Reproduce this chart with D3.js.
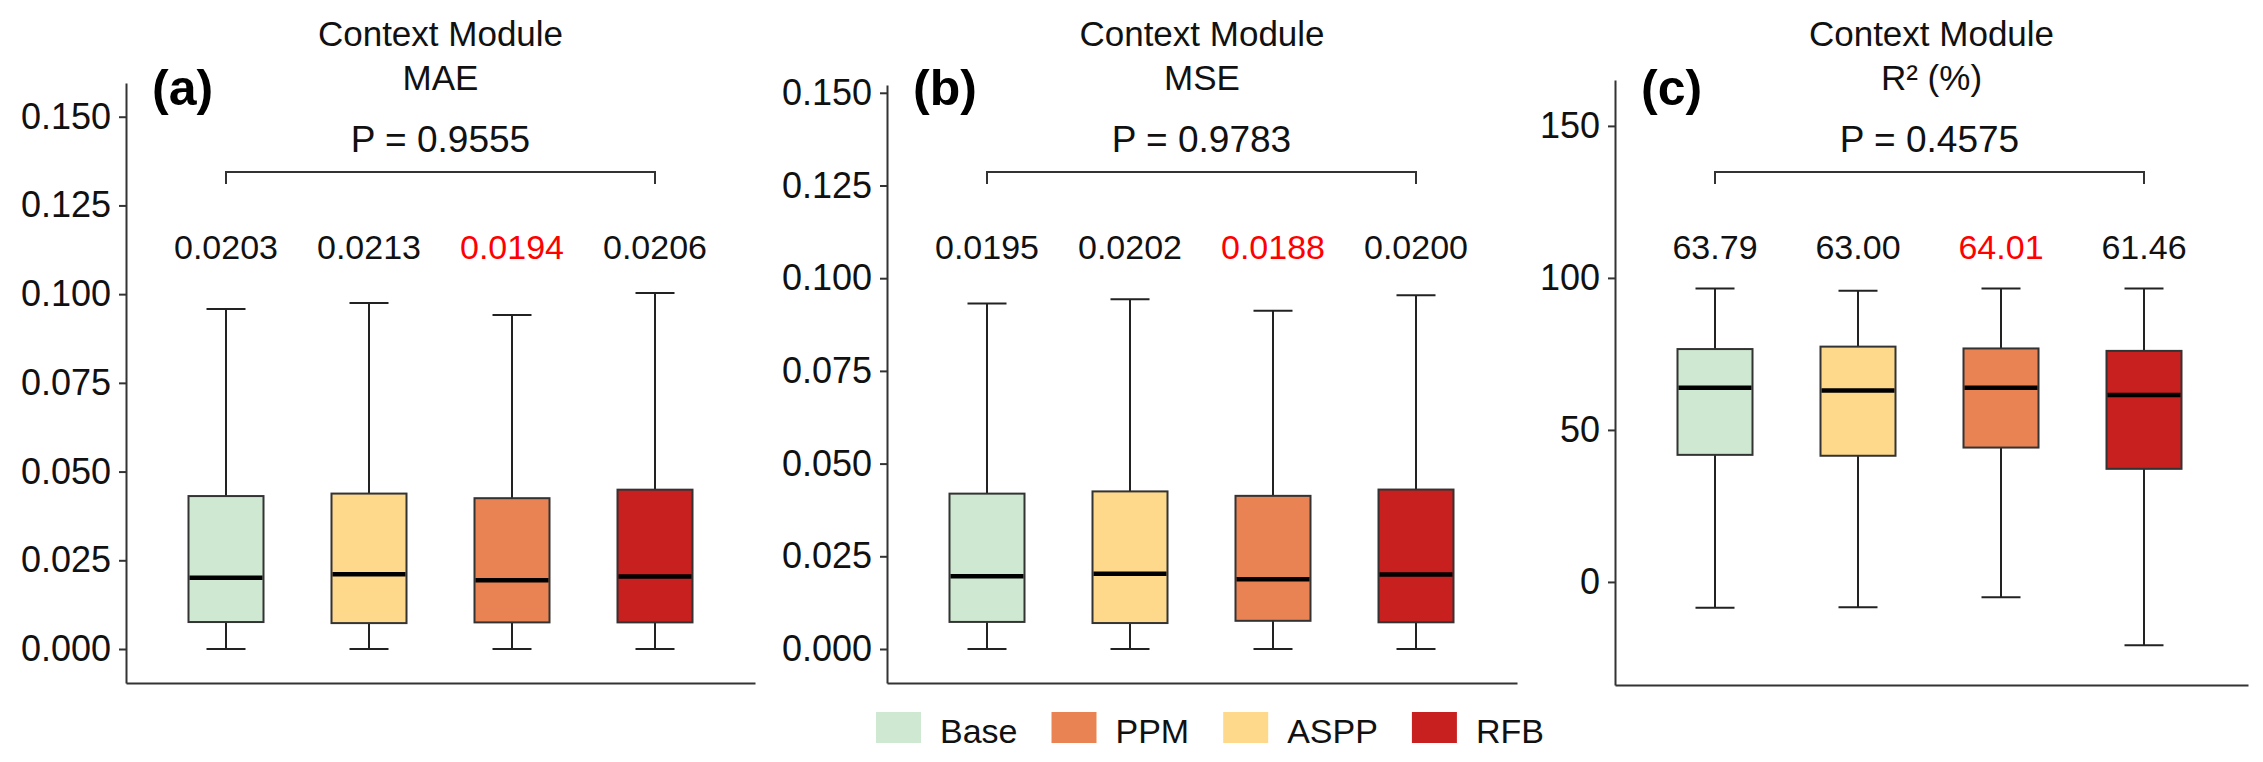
<!DOCTYPE html>
<meta charset="utf-8">
<head lang="en">
    <title>Context Module boxplots</title>
    <script src="https://cdn.jsdelivr.net/npm/d3@7/dist/d3.min.js"></script>
    <style type="text/css">
        body { margin: 0; background: #fff; }
        svg text { font-family: "Liberation Sans", Arial, sans-serif; }
        .axis path, .axis line { stroke: #333; stroke-width: 2; }
        .axis text { font-size: 36px; fill: #111; }
        .box { stroke: #333; stroke-width: 2; }
        .whisker { stroke: #222; stroke-width: 2; }
        .median { stroke: #000; stroke-width: 4.5; }
    </style>
</head>
<body>
<script type="text/javascript">

    // groups in plotting order (x axis)
    var groups = ["Base", "ASPP", "PPM", "RFB"];
    var legendOrder = ["Base", "PPM", "ASPP", "RFB"];
    var groupColors = ["#cfe8d1", "#fed98c", "#ea8354", "#c81f1f"];

    // (a) MAE
    var maeMin = [0, 0, 0, 0];
    var maeQ1 = [0.0076, 0.0073, 0.0075, 0.0075];
    var maeMed = [0.0201, 0.0211, 0.0194, 0.0204];
    var maeQ3 = [0.0431, 0.0438, 0.0425, 0.0449];
    var maeMax = [0.0958, 0.0975, 0.0941, 0.1003];
    var maeLabels = ["0.0203", "0.0213", "0.0194", "0.0206"];
    var maeTicks = [0, 0.025, 0.05, 0.075, 0.1, 0.125, 0.15];

    // (b) MSE
    var mseMin = [0, 0, 0, 0];
    var mseQ1 = [0.0073, 0.0070, 0.0076, 0.0072];
    var mseMed = [0.0196, 0.0203, 0.0188, 0.0201];
    var mseQ3 = [0.0419, 0.0425, 0.0413, 0.0430];
    var mseMax = [0.0932, 0.0943, 0.0912, 0.0954];
    var mseLabels = ["0.0195", "0.0202", "0.0188", "0.0200"];
    var mseTicks = [0, 0.025, 0.05, 0.075, 0.1, 0.125, 0.15];

    // (c) R2 (%)
    var r2Min = [-8.5, -8.3, -5.0, -20.8];
    var r2Q1 = [41.8, 41.5, 44.2, 37.2];
    var r2Med = [63.9, 63.0, 63.9, 61.5];
    var r2Q3 = [76.6, 77.4, 76.8, 76.0];
    var r2Max = [96.5, 95.8, 96.5, 96.5];
    var r2Labels = ["63.79", "63.00", "64.01", "61.46"];
    var r2Ticks = [0, 50, 100, 150];

    var bestIndex = 2; // PPM value printed in red

    var panels = [
        {tag: "(a)", metric: "MAE", p: "P = 0.9555", lo: maeMin, q1: maeQ1, med: maeMed, q3: maeQ3, hi: maeMax,
            labels: maeLabels, ticks: maeTicks, fmt: d3.format(".3f"), domain: [-0.00958, 0.1595],
            left: 126, right: 755, top: 83, bottom: 683},
        {tag: "(b)", metric: "MSE", p: "P = 0.9783", lo: mseMin, q1: mseQ1, med: mseMed, q3: mseQ3, hi: mseMax,
            labels: mseLabels, ticks: mseTicks, fmt: d3.format(".3f"), domain: [-0.00917, 0.1521],
            left: 887, right: 1517, top: 85, bottom: 683},
        {tag: "(c)", metric: "R\u00b2 (%)", p: "P = 0.4575", lo: r2Min, q1: r2Q1, med: r2Med, q3: r2Q3, hi: r2Max,
            labels: r2Labels, ticks: r2Ticks, fmt: d3.format("d"), domain: [-33.9, 165.1],
            left: 1615, right: 2248, top: 80, bottom: 685}
    ];

    var width = 2263;
    var height = 762;
    var boxW = 75;
    var capW = 39;

    var color = d3.scaleOrdinal().domain(groups).range(groupColors);

    var svg = d3.select("body")
        .append("svg")
        .attr("width", width)
        .attr("height", height);

    panels.forEach(function (pn) {
        var g = svg.append("g");

        var x = d3.scalePoint()
            .domain(groups)
            .range([pn.left + 100, pn.left + 100 + 429]);
        var y = d3.scaleLinear()
            .domain(pn.domain)
            .range([pn.bottom, pn.top]);

        // axes
        g.append("g")
            .attr("class", "axis")
            .attr("transform", "translate(" + pn.left + ",0)")
            .call(d3.axisLeft(y).tickValues(pn.ticks).tickFormat(pn.fmt)
                .tickSize(7).tickPadding(8).tickSizeOuter(0));
        g.append("g")
            .attr("class", "axis")
            .attr("transform", "translate(0," + pn.bottom + ")")
            .call(d3.axisBottom(d3.scaleLinear().range([pn.left, pn.right]))
                .tickValues([]).tickSizeOuter(0));

        var rows = groups.map(function (name, i) {
            return {name: name, i: i, lo: pn.lo[i], q1: pn.q1[i], med: pn.med[i], q3: pn.q3[i], hi: pn.hi[i]};
        });

        // whiskers
        g.selectAll(".wh").data(rows).enter().append("line")
            .attr("class", "whisker")
            .attr("x1", function (d) { return x(d.name); })
            .attr("x2", function (d) { return x(d.name); })
            .attr("y1", function (d) { return y(d.lo); })
            .attr("y2", function (d) { return y(d.hi); });
        ["lo", "hi"].forEach(function (k) {
            g.selectAll(".cap-" + k).data(rows).enter().append("line")
                .attr("class", "whisker")
                .attr("x1", function (d) { return x(d.name) - capW / 2; })
                .attr("x2", function (d) { return x(d.name) + capW / 2; })
                .attr("y1", function (d) { return y(d[k]); })
                .attr("y2", function (d) { return y(d[k]); });
        });

        // boxes
        g.selectAll(".box").data(rows).enter().append("rect")
            .attr("class", "box")
            .attr("x", function (d) { return x(d.name) - boxW / 2; })
            .attr("width", boxW)
            .attr("y", function (d) { return y(d.q3); })
            .attr("height", function (d) { return y(d.q1) - y(d.q3); })
            .style("fill", function (d) { return color(d.name); });
        g.selectAll(".median").data(rows).enter().append("line")
            .attr("class", "median")
            .attr("x1", function (d) { return x(d.name) - boxW / 2 + 1; })
            .attr("x2", function (d) { return x(d.name) + boxW / 2 - 1; })
            .attr("y1", function (d) { return y(d.med); })
            .attr("y2", function (d) { return y(d.med); });

        // mean labels above boxes
        g.selectAll(".lab").data(pn.labels).enter().append("text")
            .attr("x", function (d, i) { return x(groups[i]); })
            .attr("y", 259)
            .attr("text-anchor", "middle")
            .style("font-size", "34px")
            .style("fill", function (d, i) { return i === bestIndex ? "#ff0000" : "#111"; })
            .text(function (d) { return d; });

        // comparison bracket
        var xa = x(groups[0]), xb = x(groups[groups.length - 1]);
        g.append("path")
            .attr("d", "M" + xa + "," + 184 + "V172H" + xb + "V184")
            .attr("fill", "none")
            .attr("stroke", "#333")
            .attr("stroke-width", 2);
        g.append("text")
            .attr("x", (xa + xb) / 2)
            .attr("y", 152)
            .attr("text-anchor", "middle")
            .style("font-size", "37px")
            .style("fill", "#111")
            .text(pn.p);

        // titles
        var cx = (pn.left + pn.right) / 2;
        g.append("text")
            .attr("x", cx).attr("y", 46)
            .attr("text-anchor", "middle")
            .style("font-size", "35px").style("fill", "#111")
            .text("Context Module");
        g.append("text")
            .attr("x", cx).attr("y", 90)
            .attr("text-anchor", "middle")
            .style("font-size", "35px").style("fill", "#111")
            .text(pn.metric);
        g.append("text")
            .attr("x", pn.left + 26).attr("y", 105)
            .style("font-size", "50px").style("font-weight", "bold").style("fill", "#000")
            .text(pn.tag);
    });

    // legend
    var legend = svg.append("g");
    var lx = 876;
    legendOrder.forEach(function (name) {
        legend.append("rect")
            .attr("x", lx).attr("y", 712)
            .attr("width", 45).attr("height", 31)
            .style("fill", color(name));
        var t = legend.append("text")
            .attr("x", lx + 64).attr("y", 743)
            .style("font-size", "34px").style("fill", "#111")
            .text(name);
        lx = lx + 64 + t.node().getComputedTextLength() + 34;
    });

</script>
</body>
